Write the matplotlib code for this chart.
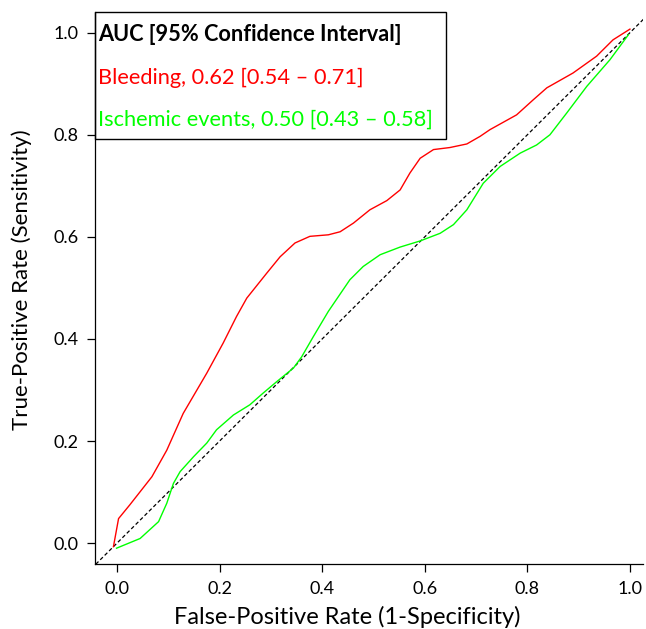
import matplotlib
matplotlib.use("Agg")
import matplotlib.pyplot as plt
from matplotlib.patches import Rectangle

# courbes ROC (FPR, TPR)
bleeding_fpr = [-0.007, 0.003, 0.025, 0.068, 0.097, 0.129, 0.175, 0.207, 0.233, 0.253,
                0.292, 0.318, 0.347, 0.376, 0.412, 0.435, 0.461, 0.493, 0.526, 0.552,
                0.571, 0.591, 0.617, 0.649, 0.682, 0.708, 0.727, 0.779, 0.812, 0.838,
                0.889, 0.935, 0.967, 1.0]
bleeding_tpr = [-0.007, 0.048, 0.075, 0.13, 0.182, 0.254, 0.333, 0.392, 0.444, 0.48,
                0.529, 0.561, 0.588, 0.601, 0.604, 0.61, 0.627, 0.653, 0.671, 0.692,
                0.725, 0.754, 0.771, 0.775, 0.782, 0.797, 0.81, 0.839, 0.869, 0.892,
                0.921, 0.954, 0.986, 1.007]

ischemic_fpr = [-0.001, 0.045, 0.081, 0.097, 0.11, 0.123, 0.149, 0.175, 0.194, 0.227,
                0.259, 0.285, 0.311, 0.344, 0.36, 0.383, 0.412, 0.454, 0.48, 0.513,
                0.552, 0.591, 0.63, 0.656, 0.682, 0.714, 0.747, 0.786, 0.818, 0.844,
                0.877, 0.916, 0.961, 0.997]
ischemic_tpr = [-0.01, 0.009, 0.042, 0.078, 0.117, 0.14, 0.169, 0.196, 0.222, 0.251,
                0.271, 0.294, 0.316, 0.343, 0.365, 0.405, 0.454, 0.516, 0.542, 0.565,
                0.58, 0.592, 0.607, 0.624, 0.653, 0.705, 0.738, 0.764, 0.78, 0.80,
                0.843, 0.895, 0.947, 0.996]

ticks = [0.0, 0.2, 0.4, 0.6, 0.8, 1.0]
legend_lines = [
    ("AUC [95% Confidence Interval]", "black", "bold"),
    ("Bleeding, 0.62 [0.54 \u2013 0.71]", "#ff0000", "normal"),
    ("Ischemic events, 0.50 [0.43 \u2013 0.58]", "#00ff00", "normal"),
]

plt.rcParams["font.family"] = ["Lato", "DejaVu Sans"]

fig = plt.figure(figsize=(6.46, 6.29), dpi=100)
ax = fig.add_axes([0.147, 0.1033, 0.848, 0.878])

ax.plot([-0.05, 1.05], [-0.05, 1.05], color="black", lw=0.9, ls=(0, (3, 2)))
ax.plot(bleeding_fpr, bleeding_tpr, color="#ff0000", lw=1.0)
ax.plot(ischemic_fpr, ischemic_tpr, color="#00ff00", lw=1.0)

ax.set_xlim(-0.043, 1.025)
ax.set_ylim(-0.041, 1.041)
ax.set_xticks(ticks, [f"{t:.1f}" for t in ticks])
ax.set_yticks(ticks, [f"{t:.1f}" for t in ticks])
ax.tick_params(direction="out", length=6, width=0.9, labelsize=13, pad=6)
for side in ("top", "right"):
    ax.spines[side].set_visible(False)
for side in ("left", "bottom"):
    ax.spines[side].set_linewidth(0.9)

ax.set_xlabel("False-Positive Rate (1-Specificity)", fontsize=17)
ax.set_ylabel("True-Positive Rate (Sensitivity)", fontsize=16)
ax.xaxis.set_label_coords(0.46, -0.075)
ax.yaxis.set_label_coords(-0.115, 0.514)

# encadré AUC
ax.add_patch(Rectangle((0.0, 0.77), 0.64, 0.23, transform=ax.transAxes,
                       fill=False, edgecolor="black", lw=1.0, clip_on=False))
for i, (txt, col, w) in enumerate(legend_lines):
    ax.text(0.006, 0.958 - i * 0.077, txt, transform=ax.transAxes, color=col,
            fontweight=w, fontsize=15.7, ha="left", va="center")

fig.savefig("out.png", dpi=100)
